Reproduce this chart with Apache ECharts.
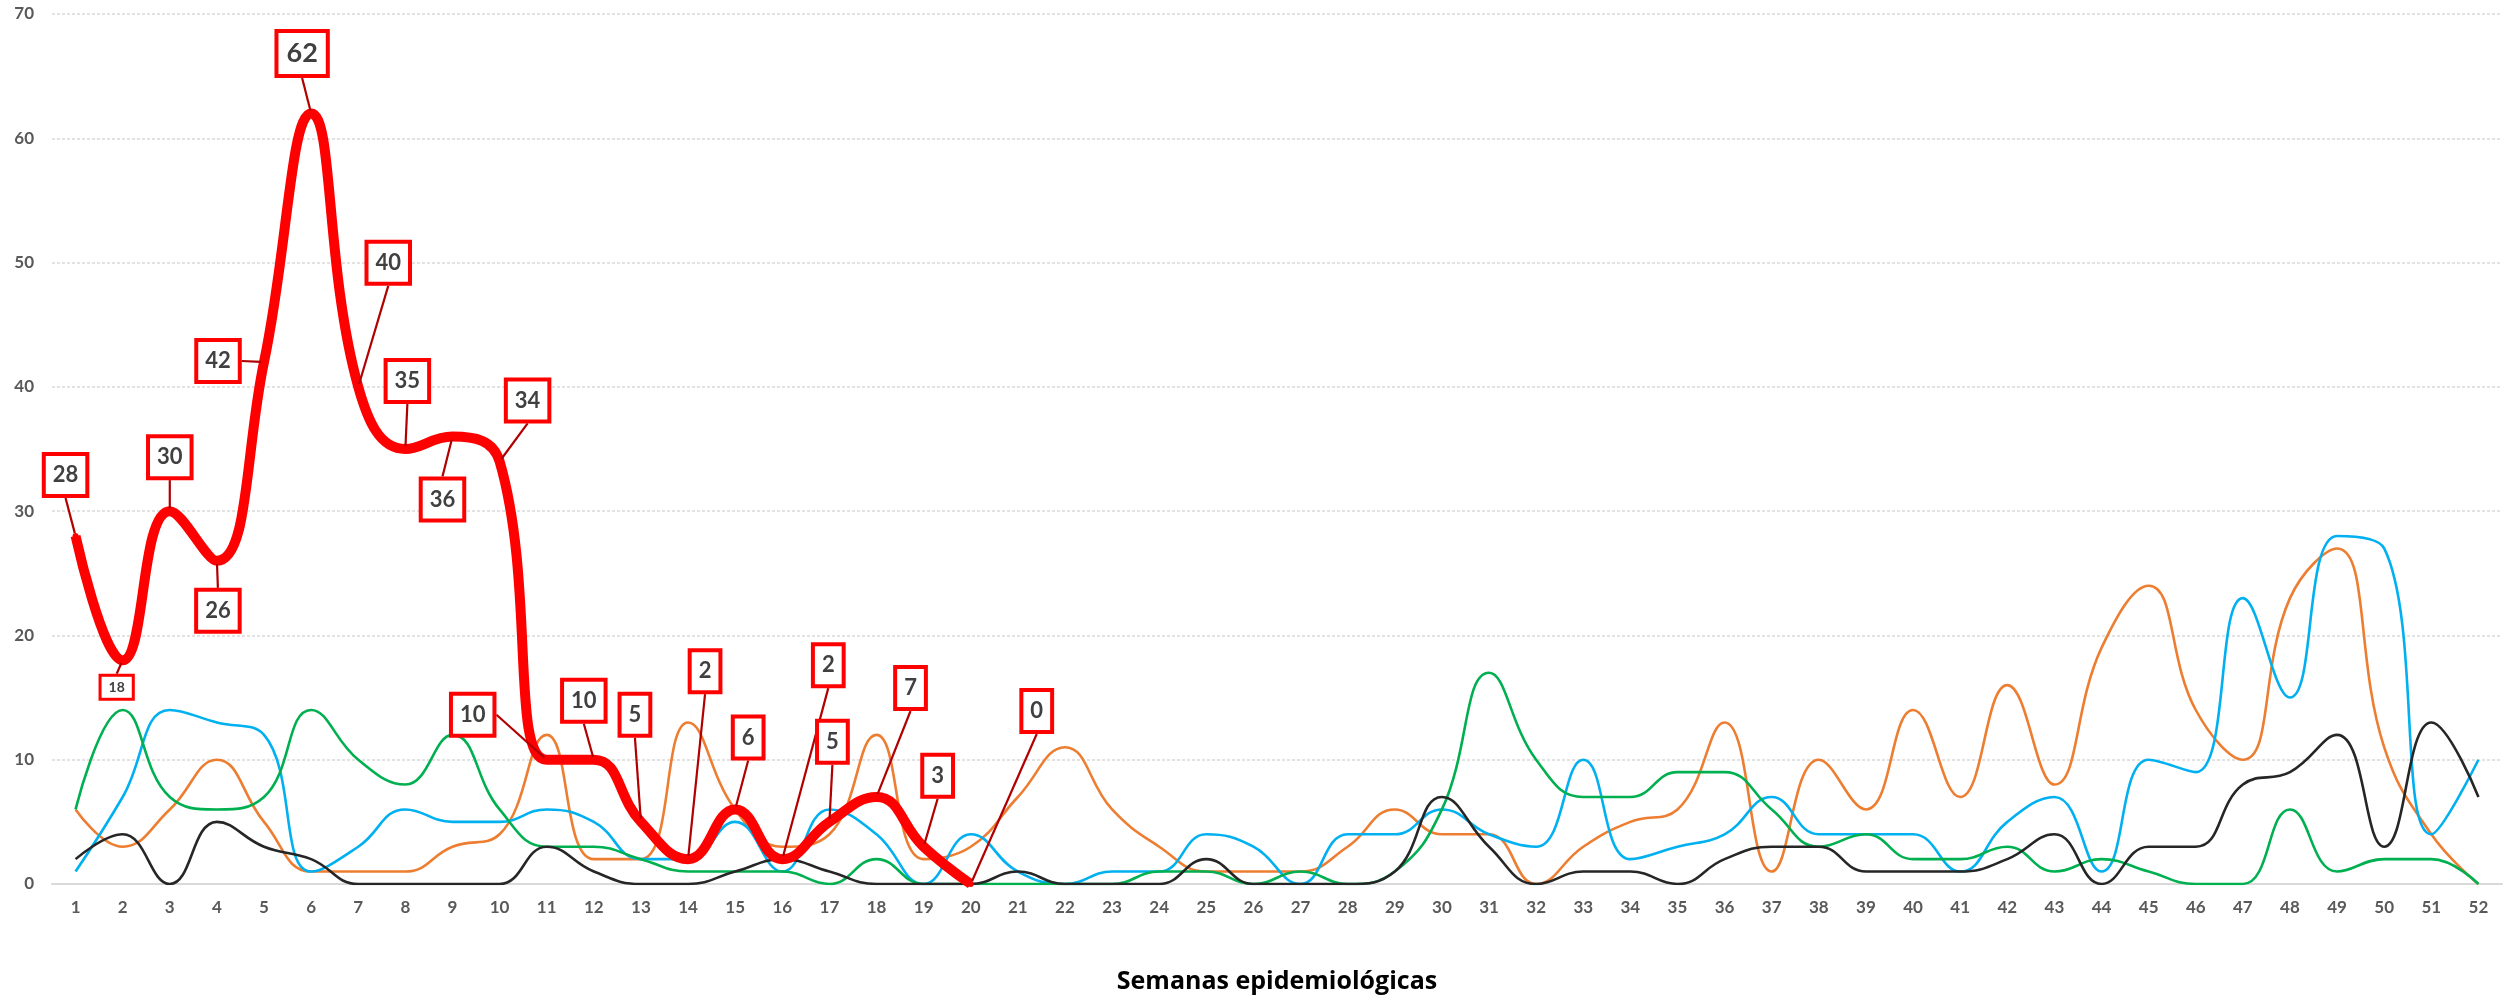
<!DOCTYPE html>
<html>
<head>
<meta charset="utf-8">
<script src="https://cdn.jsdelivr.net/npm/echarts@6/dist/echarts.min.js"></script>
<style>
html,body{margin:0;padding:0;background:#fff;}
#chart{width:2504px;height:999px;}
</style>
</head>
<body>
<div id="chart"></div>
<script>
const weeks = Array.from({length: 52}, (_, i) => String(i + 1));
const yTicks = [0, 10, 20, 30, 40, 50, 60, 70];
const axisTitle = 'Semanas epidemiológicas';

const redSeries = [28,18,30,26,42,62,40,35,36,34,10,10,5,2,6,2,5,7,3,0];
const orangeSeries = [6,3,6,10,5,1,1,1,3,4,12,2,2,13,6,3,4,12,2,3,7,11,6,3,1,1,1,3,6,4,4,0,3,5,6,13,1,10,6,14,7,16,8,19,24,14,10,23,27,11,4,0];
const blueSeries = [1,7,14,13,12,1,3,6,5,5,6,5,2,2,5,1,6,4,0,4,1,0,1,1,4,3,0,4,4,6,4,3,10,2,3,4,7,4,4,4,1,5,7,1,10,9,23,15,28,27,4,10];
const greenSeries = [6,14,7,6,7,14,10,8,12,6,3,3,2,1,1,1,0,2,0,0,0,0,0,1,1,0,1,0,1,6,17,10,7,7,9,9,6,3,4,2,2,3,1,2,1,0,0,6,1,2,2,0];
const blackSeries = [2,4,0,5,3,2,0,0,0,0,3,1,0,0,1,2,1,0,0,0,1,0,0,0,2,0,0,0,1,7,3,0,1,1,0,2,3,3,1,1,1,2,4,0,3,3,8,9,12,3,13,7];

// label box offsets from each red point (pixels) and leader anchor side – layout only
const labelOffsets = [
  [-10,-61],[-6,27],[0,-54],[1,50],[-46,-1],[-9,-60],[30,-124],[2,-68],[-10,63],[28,-61],
  [-74,-45],[-10,-59],[-6,-107],[17,-188],[13,-72],[46,-194],[3,-80],[34,-109],[14,-71],[66,-173]
];
const leaderAnchor = ['B','T','B','T','R','B','B','B','T','B','R','B','B','B','B','L','B','L','B','L'];

const chart = echarts.init(document.getElementById('chart'), null, {renderer: 'canvas'});

const thin = (name, data, color) => ({
  name, type: 'line', data, smooth: 0.45, showSymbol: false, symbol: 'none',
  lineStyle: {color, width: 2.6}, itemStyle: {color}, z: 2
});

const redData = redSeries.map((v, i) => {
  const item = {value: v};
  if (v === 62) item.label = {fontSize: 27, lineHeight: 27, padding: [8, 8, 6, 8]};
  if (i === 1) item.label = {fontSize: 14, lineHeight: 14, padding: [4, 7, 3, 7], borderWidth: 3};
  return item;
});

chart.setOption({
  animation: false,
  backgroundColor: '#ffffff',
  grid: {left: 52, right: 2, top: 14, bottom: 111, containLabel: false},
  xAxis: {
    type: 'category', data: weeks, boundaryGap: true,
    axisLine: {show: true, lineStyle: {color: '#d9d9d9', width: 2}},
    axisTick: {show: false},
    axisLabel: {color: '#595959', fontWeight: 'bold', fontSize: 17, fontFamily: 'Lato', margin: 15, interval: 0},
    name: axisTitle, nameLocation: 'middle', nameGap: 85,
    nameTextStyle: {color: '#000000', fontWeight: 'bold', fontSize: 25, fontFamily: 'Open Sans'}
  },
  yAxis: {
    type: 'value', min: yTicks[0], max: yTicks[yTicks.length - 1], interval: 10,
    axisLine: {show: false}, axisTick: {show: false},
    axisLabel: {color: '#595959', fontWeight: 'bold', fontSize: 17, fontFamily: 'Lato', margin: 18},
    splitLine: {lineStyle: {color: '#d9d9d9', type: [3, 2], width: 1.5}}
  },
  series: [
    thin('Serie naranja', orangeSeries, '#ed7d31'),
    thin('Serie azul', blueSeries, '#00b0f0'),
    thin('Serie verde', greenSeries, '#00b050'),
    thin('Serie negra', blackSeries, '#262626'),
    {
      name: 'Serie roja', type: 'line', data: redData, smooth: 0.45,
      showSymbol: true, symbol: 'circle', symbolSize: 6,
      itemStyle: {color: '#ff0000'},
      lineStyle: {color: '#ff0000', width: 10},
      z: 5,
      label: {
        show: true, position: 'inside',
        color: '#404040', fontWeight: 'bold', fontSize: 22, lineHeight: 22, fontFamily: 'Lato',
        backgroundColor: '#ffffff', borderColor: '#ff0000', borderWidth: 4,
        padding: [9, 7, 7, 7]
      },
      labelLine: {show: true, smooth: false, lineStyle: {color: '#b00000', width: 2.2}},
      labelLayout: function (p) {
        const i = p.dataIndex;
        const o = labelOffsets[i];
        const px = p.rect.x + p.rect.width / 2;
        const py = p.rect.y + p.rect.height / 2;
        const cx = px + o[0], cy = py + o[1];
        const w = p.labelRect.width, h = p.labelRect.height;
        let end, mid;
        const a = leaderAnchor[i];
        if (a === 'B') { end = [cx, cy + h / 2]; mid = end; }
        else if (a === 'T') { end = [cx, cy - h / 2]; mid = end; }
        else if (a === 'L') { end = [cx - w / 2, cy]; mid = [cx - w / 2 - 14, cy]; }
        else { end = [cx + w / 2, cy]; mid = [cx + w / 2 + 16, cy]; }
        return {
          x: cx, y: cy, align: 'center', verticalAlign: 'middle',
          labelLinePoints: [[px, py], mid, end]
        };
      }
    }
  ]
});
</script>
</body>
</html>
